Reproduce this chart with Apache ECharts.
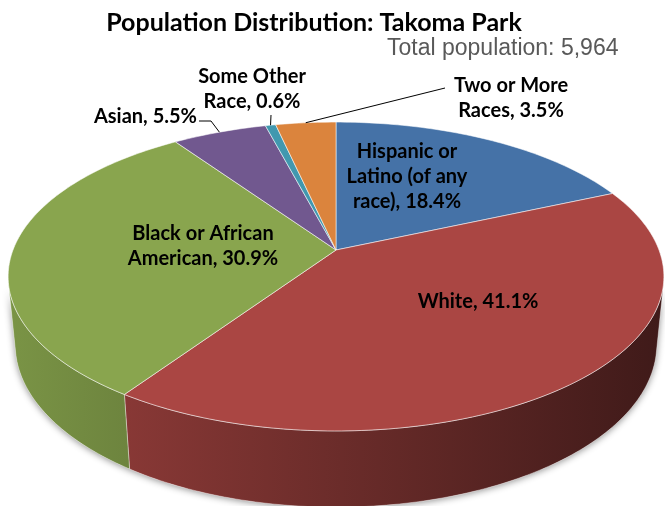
<!DOCTYPE html>
<html>
<head>
<meta charset="utf-8">
<script src="https://cdn.jsdelivr.net/npm/echarts@6/dist/echarts.min.js"></script>
<style>
  html, body { margin: 0; padding: 0; background: #ffffff; }
  #chart { width: 665px; height: 506px; }
</style>
</head>
<body>
<div id="chart"></div>
<script>
// ---- data ----
const categories = ['Hispanic or Latino (of any race)', 'White', 'Black or African American', 'Asian', 'Some Other Race', 'Two or More Races'];
const labelNames = ['Hispanic or\nLatino (of any\nrace)', 'White', 'Black or African\nAmerican', 'Asian', 'Some Other\nRace', 'Two or More\nRaces'];
const shares = [18.4, 41.1, 30.9, 5.5, 0.6, 3.5];
const sliceColors = ['#4572A7', '#AA4643', '#89A54E', '#71588F', '#4198AF', '#DB843D'];
const titleText = 'Population Distribution: Takoma Park';
const subtitleText = 'Total population: 5,964';

// ---- label placement (pixels) ----
const labelLayout = [
  { x: 407, y: 177, align: 'center' },
  { x: 478, y: 302, align: 'center' },
  { x: 203, y: 246, align: 'center' },
  { x: 197, y: 117, align: 'right', leader: [[199, 121], [211, 121]] },
  { x: 252, y: 89, align: 'center', leader: [[271, 115]] },
  { x: 511, y: 98, align: 'center', leader: [[445, 88]] }
];

// ---- 3D view of the tilted disc ----
const view = { cx: 336, cy: 250, k: 323, sinA: 0.464, dist: 5.16, depth: 0.24 };
view.cosA = Math.sqrt(1 - view.sinA * view.sinA);

// theta: clockwise from the far side, seen from above; y: height (0 = top face)
function project(theta, r, y) {
  const x = r * Math.sin(theta);
  const z = -r * Math.cos(theta);
  const v = y * view.cosA - z * view.sinA;
  const w = y * view.sinA + z * view.cosA;
  const s = view.dist / (view.dist - w);
  return [view.cx + view.k * x * s, view.cy - view.k * v * s];
}

const total = shares.reduce((a, b) => a + b, 0);
const startAngles = [];
const endAngles = [];
let acc = 0;
shares.forEach(v => {
  startAngles.push(acc / total * Math.PI * 2);
  acc += v;
  endAngles.push(acc / total * Math.PI * 2);
});

// side wall is visible where its outward normal faces the camera
const wallFrom = Math.acos(-1 / (view.dist * view.cosA));
const wallTo = Math.PI * 2 - wallFrom;

function rimPoints(a0, a1, y) {
  const n = Math.max(2, Math.ceil(Math.abs(a1 - a0) / (Math.PI / 180)));
  const pts = [];
  for (let j = 0; j <= n; j++) pts.push(project(a0 + (a1 - a0) * j / n, 1, y));
  return pts;
}

function shade(hex, f) {
  const r = parseInt(hex.slice(1, 3), 16), g = parseInt(hex.slice(3, 5), 16), b = parseInt(hex.slice(5, 7), 16);
  return 'rgb(' + Math.round(r * f) + ',' + Math.round(g * f) + ',' + Math.round(b * f) + ')';
}

function renderShadow() {
  const top = rimPoints(wallFrom, wallTo, 0);
  const bottom = rimPoints(wallTo, wallFrom, -view.depth);
  return {
    type: 'polygon',
    shape: { points: top.concat(bottom) },
    style: { fill: '#ffffff', shadowBlur: 7, shadowColor: 'rgba(0,0,0,0.45)', shadowOffsetX: 0, shadowOffsetY: 1 },
    silent: true
  };
}

function renderWall(params) {
  const i = params.dataIndex;
  const a0 = Math.max(startAngles[i], wallFrom);
  const a1 = Math.min(endAngles[i], wallTo);
  if (a1 <= a0) return { type: 'group', children: [] };
  const top = rimPoints(a0, a1, 0);
  const bottom = rimPoints(a1, a0, -view.depth);
  const c = sliceColors[i];
  return {
    type: 'polygon',
    shape: { points: top.concat(bottom) },
    style: {
      fill: new echarts.graphic.LinearGradient(0, 0, 665, 0, [
        { offset: 0, color: shade(c, 0.9) },
        { offset: 1, color: shade(c, 0.37) }
      ], true),
      stroke: 'rgba(255,255,255,0.45)',
      lineWidth: 0.8
    }
  };
}

function renderTop(params) {
  const i = params.dataIndex;
  const pts = [project(0, 0, 0)].concat(rimPoints(startAngles[i], endAngles[i], 0));
  const children = [{
    type: 'polygon',
    shape: { points: pts },
    style: { fill: sliceColors[i], stroke: 'rgba(255,255,255,0.6)', lineWidth: 0.9 }
  }];
  const lay = labelLayout[i];
  children.push({
    type: 'text',
    z2: 20,
    style: {
      text: labelNames[i] + ', ' + shares[i].toFixed(1) + '%',
      x: lay.x, y: lay.y,
      align: lay.align, verticalAlign: 'middle',
      font: 'bold 20px Lato', fill: '#000000', lineHeight: 25
    }
  });
  if (lay.leader) {
    const mid = (startAngles[i] + endAngles[i]) / 2;
    children.push({
      type: 'polyline',
      z2: 20,
      shape: { points: lay.leader.concat([project(mid, 1, 0)]) },
      style: { stroke: '#000000', lineWidth: 1, fill: null }
    });
  }
  return { type: 'group', children: children };
}

const seriesData = shares.map((v, i) => ({ name: categories[i], value: v }));

const chart = echarts.init(document.getElementById('chart'), null, { renderer: 'canvas' });
chart.setOption({
  animation: false,
  backgroundColor: '#ffffff',
  graphic: [
    { type: 'text', x: 314, y: 23, style: { text: titleText, font: 'bold 25px Lato', fill: '#000000', align: 'center', verticalAlign: 'middle' } },
    { type: 'text', x: 387, y: 49, style: { text: subtitleText, font: '23px "Liberation Sans", Arial, sans-serif', fill: '#595959', align: 'left', verticalAlign: 'middle' } }
  ],
  series: [
    { type: 'custom', coordinateSystem: 'none', silent: true, data: [{ name: 'all', value: total }], renderItem: renderShadow },
    { type: 'custom', coordinateSystem: 'none', data: seriesData, renderItem: renderWall },
    { type: 'custom', coordinateSystem: 'none', data: seriesData, renderItem: renderTop }
  ]
});
</script>
</body>
</html>
